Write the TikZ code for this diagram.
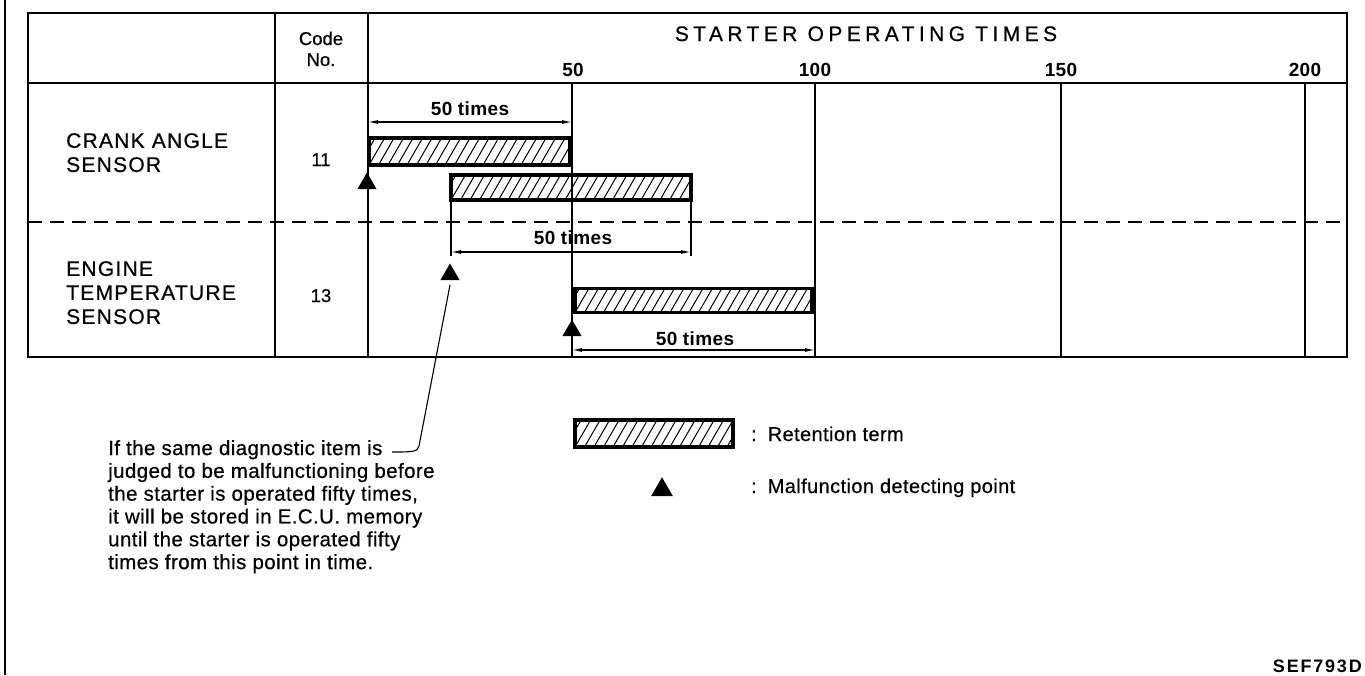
\documentclass[tikz,border=0pt]{standalone}
\usepackage{fontspec}
\setmainfont{Liberation Sans}
\newfontfamily\capfont[LetterSpace=6,FakeBold=0.6]{Liberation Sans}
\newfontfamily\headfont[LetterSpace=21,FakeBold=0.6]{Liberation Sans}
\newfontfamily\txtfont[LetterSpace=2,FakeBold=0.5]{Liberation Sans}
\newfontfamily\regfont[FakeBold=0.6]{Liberation Sans}
\newfontfamily\numfont[LetterSpace=2]{Liberation Sans}
\newfontfamily\figfont[LetterSpace=10]{Liberation Sans}
\usetikzlibrary{shapes.geometric,arrows.meta}
\begin{document}
\begin{tikzpicture}[x=1pt,y=-1pt,
  border/.style={line width=2.4pt},
  tline/.style={line width=1.4pt},
  dashline/.style={line width=1.4pt, dash pattern=on 14pt off 8pt},
  retention/.style={draw, line width=3.5pt, inner sep=0pt, outer sep=0pt,
    path picture={\foreach \k in {-3,...,28}{\draw[line width=1pt]
      ([xshift=\k*9.5pt]path picture bounding box.south west) -- ++(60:60pt);}}},
  tri/.style={regular polygon, regular polygon sides=3, fill=black, draw=none,
    inner sep=0pt, outer sep=0pt, minimum size=22pt},
  dim/.style={line width=1.1pt, {Latex[length=10pt,width=4pt]}-{Latex[length=10pt,width=4pt]}},
  leader/.style={line width=1.1pt},
  caplbl/.style={font=\capfont\fontsize{21}{24}\selectfont, inner sep=0pt, align=left},
  headlbl/.style={font=\headfont\fontsize{21}{24}\selectfont, inner sep=0pt},
  codelbl/.style={font=\regfont\fontsize{18.5}{22}\selectfont, inner sep=0pt},
  numlbl/.style={font=\numfont\bfseries\fontsize{19}{22}\selectfont, inner sep=0pt},
  dimlbl/.style={font=\numfont\bfseries\fontsize{19}{22}\selectfont, inner sep=0pt},
  notelbl/.style={font=\txtfont\fontsize{20.5}{22.8}\selectfont, inner sep=0pt, align=left},
  leglbl/.style={font=\txtfont\fontsize{20}{22.8}\selectfont, inner sep=0pt}
]
\useasboundingbox (0,0) rectangle (1365,675);
% outer left frame line
\draw[line width=2pt] (5,0) -- (5,675);
% table
\draw[border] (28,13) rectangle (1347,357);
\draw[border] (28,83) -- (1347,83);
\draw[tline] (275,13) -- (275,357);
\draw[tline] (368,13) -- (368,357);
\foreach \xx in {572,815,1061,1305}{\draw[tline] (\xx,83) -- (\xx,357);}
\draw[dashline] (28,222) -- (1347,222);
% header texts
\node[codelbl, anchor=base] (code) at (321,45) {Code};
\node[codelbl, anchor=base] (no) at (321,66) {No.};
\node[headlbl, anchor=base] (title) at (866,41) {STARTER OPERATING TIMES};
\node[numlbl, anchor=base] (n50) at (573,76) {50};
\node[numlbl, anchor=base] (n100) at (815,76) {100};
\node[numlbl, anchor=base] (n150) at (1061,76) {150};
\node[numlbl, anchor=base] (n200) at (1305,76) {200};
% row labels
\node[caplbl, anchor=north west] (crank) at (66,133) {CRANK ANGLE\\SENSOR};
\node[codelbl, anchor=base] (c11) at (321,166) {11};
\node[caplbl, anchor=north west] (engine) at (66,261) {ENGINE\\TEMPERATURE\\SENSOR};
\node[codelbl, anchor=base] (c13) at (321,302) {13};
% retention bars
\node[retention, minimum width=201pt, minimum height=27pt] (bar1) at (469.5,151.5) {};
\node[retention, minimum width=240pt, minimum height=25pt] (bar2) at (571,187.5) {};
\node[retention, minimum width=237pt, minimum height=24pt] (bar3) at (693.5,300.5) {};
% detection points
\node[tri, anchor=side 2] (t1) at (367,189) {};
\node[tri, anchor=side 2] (t2) at (450,280) {};
\node[tri, anchor=side 2] (t3) at (572,336) {};
% dimension 1
\coordinate (d1a) at (368,122);
\coordinate (d1b) at (572,122);
\draw[dim] (d1a) -- (d1b);
\node[dimlbl, anchor=base] (l1) at (470,115) {50 times};
% dimension 2
\draw[tline] (bar2.south west) -- ++(0,56);
\draw[tline] (bar2.south east) -- ++(0,56);
\draw[dim] ([yshift=-52pt]bar2.south west) -- ([yshift=-52pt]bar2.south east);
\node[dimlbl, anchor=base] (l2) at (573,244) {50 times};
% dimension 3
\coordinate (d3a) at (572,350);
\coordinate (d3b) at (815,350);
\draw[dim] (d3a) -- (d3b);
\node[dimlbl, anchor=base] (l3) at (695,345) {50 times};
% note and leader
\node[notelbl, anchor=north west] (note) at (108,440) {If the same diagnostic item is\\judged to be malfunctioning before\\the starter is operated fifty times,\\it will be stored in E.C.U. memory\\until the starter is operated fifty\\times from this point in time.};
\coordinate (lh) at (392,452);
\draw[leader] ([yshift=-5pt]t2.south) -- (419,446) .. controls (418,452) and (412,452) .. (lh);
% legend
\node[retention, minimum width=158pt, minimum height=27pt] (legbar) at (654,433.5) {};
\node[leglbl, anchor=base west] (legtxt1) at (751,441) {:\hspace{11pt}Retention term};
\node[tri, minimum size=25pt, anchor=side 2] (legtri) at (662,496) {};
\node[leglbl, anchor=base west] (legtxt2) at (751,493) {:\hspace{11pt}Malfunction detecting point};
% figure code
\node[font=\figfont\bfseries\fontsize{18}{22}\selectfont, inner sep=0pt, anchor=base east] (fig) at (1362,672) {SEF793D};
\end{tikzpicture}
\end{document}
